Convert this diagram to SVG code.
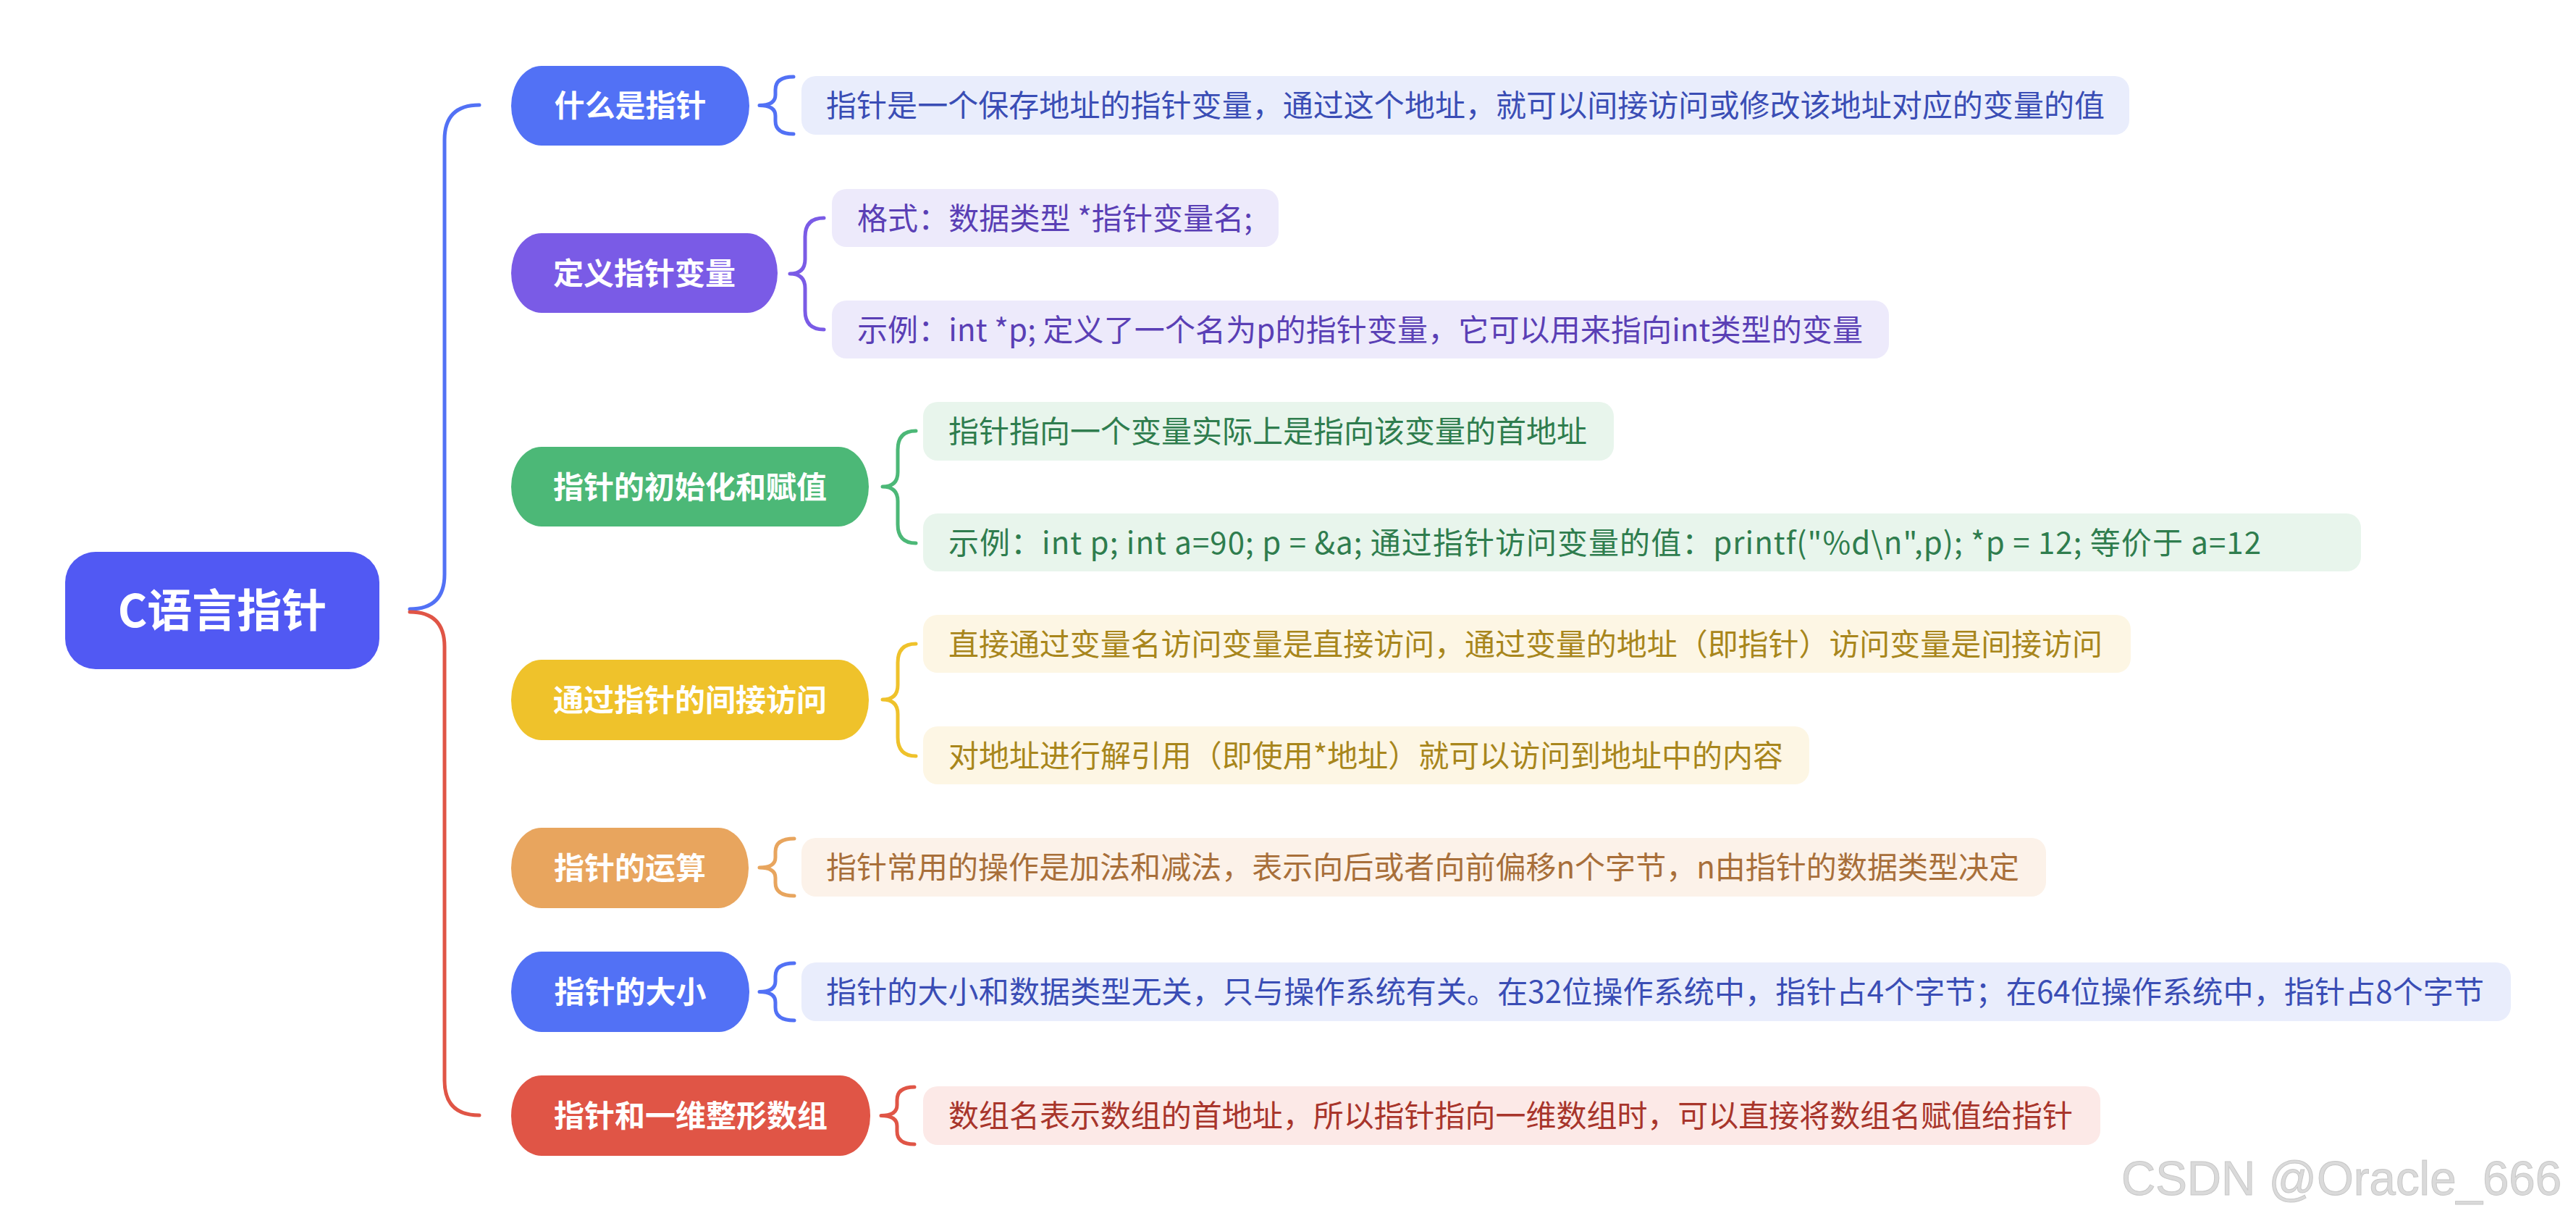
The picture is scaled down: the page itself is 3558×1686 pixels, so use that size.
<svg xmlns="http://www.w3.org/2000/svg" width="3558" height="1686" viewBox="0 0 3558 1686">
<style>
text{font-family:"Noto Sans CJK SC","Noto Sans",sans-serif}
.nt{font-size:42px;font-weight:700;fill:#fff;text-anchor:middle}
.lt{font-size:42px;font-weight:400}
.br{fill:none;stroke-width:5;stroke-linecap:round;stroke-linejoin:round}
.cn{fill:none;stroke-width:5;stroke-linecap:round}
</style>
<rect width="3558" height="1686" fill="#fff"/>
<g id="connectors">
<path class="cn" stroke="#5271F5" d="M566,841 Q614,841 614,793 L614,193 Q614,145 662,145"/>
<path class="cn" stroke="#E05546" d="M566,845 Q614,845 614,893 L614,1492 Q614,1540 662,1540"/>
<path class="br" stroke="#5271F5" d="M1096,106 Q1071,106 1071,124 L1071,131 Q1071,145.5 1049,145.5 Q1071,145.5 1071,160 L1071,167 Q1071,185 1096,185"/>
<path class="br" stroke="#7A5BE6" d="M1138,301 Q1112,301 1112,327 L1112,358 Q1112,378 1091,378 Q1112,378 1112,398 L1112,429 Q1112,455 1138,455"/>
<path class="br" stroke="#4CB877" d="M1265,595 Q1240,595 1240,621 L1240,652 Q1240,672 1219,672 Q1240,672 1240,692 L1240,724 Q1240,750 1265,750"/>
<path class="br" stroke="#EFC22B" d="M1265,889 Q1240,889 1240,915 L1240,946 Q1240,966 1219,966 Q1240,966 1240,986 L1240,1018 Q1240,1044 1265,1044"/>
<path class="br" stroke="#E8A55E" d="M1097,1158 Q1071,1158 1071,1176 L1071,1184 Q1071,1198 1049,1198 Q1071,1198 1071,1212 L1071,1219 Q1071,1237 1097,1237"/>
<path class="br" stroke="#5271F5" d="M1097,1330 Q1071,1330 1071,1348 L1071,1355 Q1071,1369.5 1049,1369.5 Q1071,1369.5 1071,1384 L1071,1391 Q1071,1409 1097,1409"/>
<path class="br" stroke="#E05546" d="M1263,1501 Q1239,1501 1239,1519 L1239,1526 Q1239,1540.5 1217,1540.5 Q1239,1540.5 1239,1555 L1239,1562 Q1239,1580 1263,1580"/>
</g>
<g id="root">
<rect x="90" y="762" width="434" height="162" rx="42" ry="42" fill="#5159F3"/>
<text x="307" y="866" font-size="62" font-weight="700" fill="#fff" text-anchor="middle">C语言指针</text>
</g>
<g id="n1">
<rect x="706" y="91" width="329" height="110" rx="42" ry="55" fill="#5271F5"/>
<text class="nt" x="870.5" y="161">什么是指针</text>
</g>
<g id="n1-leaf">
<rect x="1107" y="105" width="1834" height="81" rx="20" fill="#E9EDFC"/>
<text class="lt" x="1141" y="161" fill="#3A4DB5" textLength="1766" lengthAdjust="spacing">指针是一个保存地址的指针变量，通过这个地址，就可以间接访问或修改该地址对应的变量的值</text>
</g>
<g id="n2">
<rect x="706" y="322" width="368" height="110" rx="42" ry="55" fill="#7A5BE6"/>
<text class="nt" x="890" y="393">定义指针变量</text>
</g>
<g id="n2-leaf1">
<rect x="1149" y="261" width="617" height="80" rx="20" fill="#EDEAFB"/>
<text class="lt" x="1184" y="317" fill="#5A3FB5" textLength="546" lengthAdjust="spacing">格式：数据类型 *指针变量名;</text>
</g>
<g id="n2-leaf2">
<rect x="1149" y="415" width="1460" height="80" rx="20" fill="#EDEAFB"/>
<text class="lt" x="1184" y="471" fill="#5A3FB5" textLength="1389" lengthAdjust="spacing">示例：int *p; 定义了一个名为p的指针变量，它可以用来指向int类型的变量</text>
</g>
<g id="n3">
<rect x="706" y="617" width="494" height="110" rx="42" ry="55" fill="#4CB877"/>
<text class="nt" x="953" y="688">指针的初始化和赋值</text>
</g>
<g id="n3-leaf1">
<rect x="1275" y="555" width="954" height="81" rx="20" fill="#E8F5EC"/>
<text class="lt" x="1310" y="611" fill="#2F7D4E" textLength="882" lengthAdjust="spacing">指针指向一个变量实际上是指向该变量的首地址</text>
</g>
<g id="n3-leaf2">
<rect x="1275" y="709" width="1986" height="80" rx="20" fill="#E8F5EC"/>
<text class="lt" x="1310" y="765" fill="#2F7D4E" textLength="1813" lengthAdjust="spacing">示例：int p; int a=90; p = &amp;a; 通过指针访问变量的值：printf("%d\n",p); *p = 12; 等价于 a=12</text>
</g>
<g id="n4">
<rect x="706" y="911" width="494" height="111" rx="42" ry="55" fill="#EFC22B"/>
<text class="nt" x="953" y="982">通过指针的间接访问</text>
</g>
<g id="n4-leaf1">
<rect x="1275" y="849" width="1668" height="80" rx="20" fill="#FDF6E4"/>
<text class="lt" x="1310" y="905" fill="#A8861C" textLength="1594" lengthAdjust="spacing">直接通过变量名访问变量是直接访问，通过变量的地址（即指针）访问变量是间接访问</text>
</g>
<g id="n4-leaf2">
<rect x="1275" y="1003" width="1224" height="80" rx="20" fill="#FDF6E4"/>
<text class="lt" x="1310" y="1059" fill="#A8861C" textLength="1153" lengthAdjust="spacing">对地址进行解引用（即使用*地址）就可以访问到地址中的内容</text>
</g>
<g id="n5">
<rect x="706" y="1143" width="328" height="111" rx="42" ry="55" fill="#E8A55E"/>
<text class="nt" x="870" y="1214">指针的运算</text>
</g>
<g id="n5-leaf">
<rect x="1107" y="1157" width="1719" height="81" rx="20" fill="#FCF2E9"/>
<text class="lt" x="1141" y="1213" fill="#A86F3A" textLength="1648" lengthAdjust="spacing">指针常用的操作是加法和减法，表示向后或者向前偏移n个字节，n由指针的数据类型决定</text>
</g>
<g id="n6">
<rect x="706" y="1314" width="329" height="111" rx="42" ry="55" fill="#5271F5"/>
<text class="nt" x="870.5" y="1385">指针的大小</text>
</g>
<g id="n6-leaf">
<rect x="1107" y="1329" width="2361" height="81" rx="20" fill="#E9EDFC"/>
<text class="lt" x="1141" y="1385" fill="#3A4DB5" textLength="2290" lengthAdjust="spacing">指针的大小和数据类型无关，只与操作系统有关。在32位操作系统中，指针占4个字节；在64位操作系统中，指针占8个字节</text>
</g>
<g id="n7">
<rect x="706" y="1485" width="496" height="111" rx="42" ry="55" fill="#E05546"/>
<text class="nt" x="954" y="1556">指针和一维整形数组</text>
</g>
<g id="n7-leaf">
<rect x="1275" y="1500" width="1626" height="81" rx="20" fill="#FCE9E7"/>
<text class="lt" x="1310" y="1556" fill="#A8352B" textLength="1553" lengthAdjust="spacing">数组名表示数组的首地址，所以指针指向一维数组时，可以直接将数组名赋值给指针</text>
</g>
<text x="2930" y="1650" style="font-family:'Liberation Sans',Arial,sans-serif" font-size="66" fill="#DADADA" stroke="#C8C8C8" stroke-width="1" textLength="608" lengthAdjust="spacingAndGlyphs">CSDN @Oracle_666</text>
</svg>
